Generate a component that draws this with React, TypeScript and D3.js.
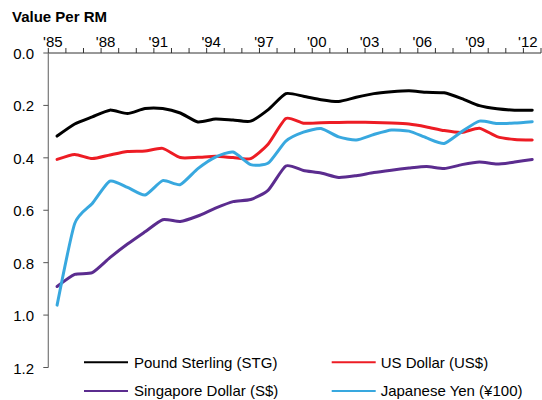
import React from "react";
import * as d3 from "d3";

const years: number[] = d3.range(1985, 2013);
const xTickYears: number[] = d3.range(1985, 2014);
const xLabelYears: number[] = [1985, 1988, 1991, 1994, 1997, 2000, 2003, 2006, 2009, 2012];
const yTicks: number[] = [0, 0.2, 0.4, 0.6, 0.8, 1.0, 1.2];

const poundSterling: number[] = [
  0.317, 0.271, 0.244, 0.218, 0.231, 0.212, 0.212, 0.229, 0.263, 0.252,
  0.256, 0.26, 0.216, 0.155, 0.165, 0.178, 0.185, 0.169, 0.155, 0.148,
  0.144, 0.15, 0.152, 0.174, 0.201, 0.213, 0.218, 0.218,
];
const usDollar: number[] = [
  0.406, 0.387, 0.403, 0.389, 0.376, 0.374, 0.364, 0.399, 0.398, 0.394,
  0.399, 0.403, 0.347, 0.25, 0.268, 0.266, 0.265, 0.264, 0.265, 0.267,
  0.271, 0.282, 0.296, 0.303, 0.287, 0.319, 0.33, 0.332,
];
const singaporeDollar: number[] = [
  0.891, 0.845, 0.838, 0.781, 0.729, 0.682, 0.636, 0.643, 0.622, 0.592,
  0.567, 0.559, 0.523, 0.431, 0.448, 0.458, 0.475, 0.468, 0.456, 0.447,
  0.439, 0.433, 0.441, 0.426, 0.416, 0.424, 0.416, 0.406,
];
const japaneseYen: number[] = [
  0.962, 0.651, 0.574, 0.489, 0.513, 0.542, 0.487, 0.502, 0.441, 0.397,
  0.378, 0.426, 0.42, 0.336, 0.302, 0.288, 0.32, 0.332, 0.311, 0.294,
  0.298, 0.324, 0.345, 0.3, 0.26, 0.269, 0.267, 0.262,
];

const seriesNames: string[] = [
  "Pound Sterling (STG)",
  "US Dollar (US$)",
  "Singapore Dollar (S$)",
  "Japanese Yen (¥100)",
];
const seriesColors: string[] = ["#000000", "#ED1C24", "#5B2C8F", "#38A8DF"];
const seriesValues: number[][] = [poundSterling, usDollar, singaporeDollar, japaneseYen];

const FONT = "'Liberation Sans', Arial, Helvetica, sans-serif";

export default function App() {
  const width = 542;
  const height = 400;
  const x = d3.scaleLinear().domain([1985, 2013]).range([48.3, 541]);
  const y = d3.scaleLinear().domain([0, 1.2]).range([53, 367.5]);

  const line = d3
    .line<[number, number]>()
    .x((d) => x(d[0] + 0.5))
    .y((d) => y(d[1]))
    .curve(d3.curveCardinal.tension(0.4));

  const legendPos = [
    { lx: 84, tx: 134, ly: 362.3 },
    { lx: 331.7, tx: 380.7, ly: 362.3 },
    { lx: 84, tx: 134, ly: 391 },
    { lx: 331.7, tx: 380.7, ly: 391 },
  ];

  return (
    <svg
      width={width}
      height={height}
      style={{ position: "absolute", left: 0, top: 0, background: "#fff" }}
      fontFamily={FONT}
    >
      <text x={12} y={22} fontSize={15} fontWeight="bold" fill="#000">
        Value Per RM
      </text>

      {/* top x axis */}
      <line x1={x(1985)} x2={x(2013)} y1={y(0)} y2={y(0)} stroke="#333" strokeWidth={1} />
      {xTickYears.map((yr) => (
        <line key={yr} x1={x(yr)} x2={x(yr)} y1={y(0) - 5} y2={y(0)} stroke="#333" strokeWidth={1} />
      ))}
      {xLabelYears.map((yr) => (
        <text
          key={yr}
          x={x(yr) + 4.5}
          y={46.5}
          fontSize={15}
          textAnchor="middle"
          fill="#000"
        >
          {"'" + String(yr).slice(2)}
        </text>
      ))}

      {/* left y axis */}
      <line x1={x(1985)} x2={x(1985)} y1={y(0)} y2={y(1.2)} stroke="#777" strokeWidth={1.2} />
      {yTicks.map((t) => (
        <g key={t}>
          <line x1={x(1985) - 5} x2={x(1985)} y1={y(t)} y2={y(t)} stroke="#555" strokeWidth={1} />
          <text x={34} y={y(t) + 6} fontSize={15} textAnchor="end" fill="#000">
            {t.toFixed(1)}
          </text>
        </g>
      ))}

      {/* series */}
      {seriesValues.map((vals, i) => (
        <path
          key={seriesNames[i]}
          d={line(years.map((yr, k) => [yr, vals[k]] as [number, number])) || ""}
          fill="none"
          stroke={seriesColors[i]}
          strokeWidth={3}
          strokeLinejoin="round"
          strokeLinecap="round"
        />
      ))}

      {/* legend */}
      {seriesNames.map((name, i) => (
        <g key={name}>
          <line
            x1={legendPos[i].lx}
            x2={legendPos[i].lx + 44}
            y1={legendPos[i].ly}
            y2={legendPos[i].ly}
            stroke={seriesColors[i]}
            strokeWidth={2}
          />
          <text x={legendPos[i].tx} y={legendPos[i].ly + 5.3} fontSize={15} fill="#000">
            {name}
          </text>
        </g>
      ))}
    </svg>
  );
}
